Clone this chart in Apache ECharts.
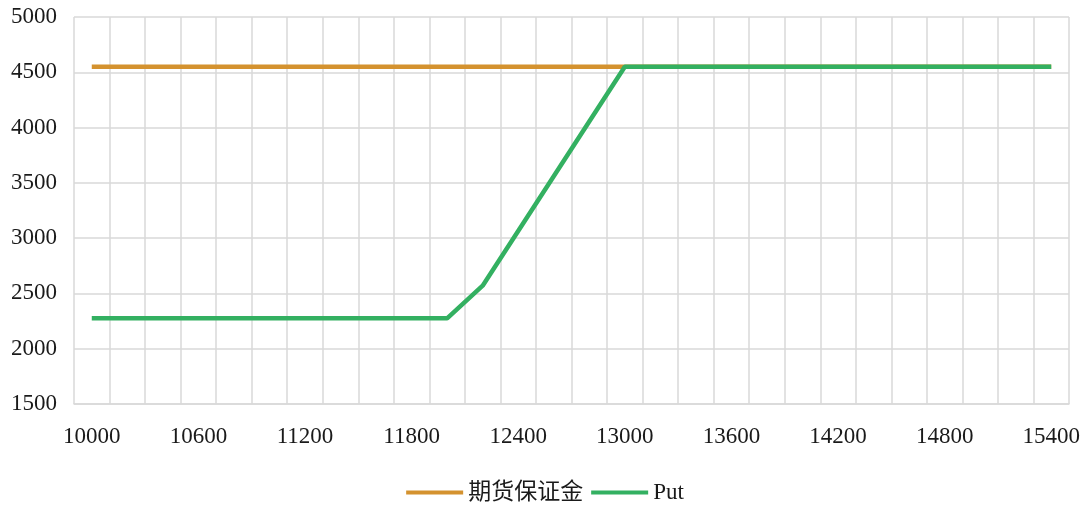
<!DOCTYPE html>
<html>
<head>
<meta charset="utf-8">
<script src="https://cdn.jsdelivr.net/npm/echarts@6/dist/echarts.min.js"></script>
<style>
  html, body { margin: 0; padding: 0; background: #fff; }
  #chart { width: 1090px; height: 506px; }
</style>
</head>
<body>
<div id="chart"></div>
<script>
// Underlying price levels (x axis)
const strikes = [
  10000, 10200, 10400, 10600, 10800, 11000, 11200, 11400, 11600, 11800,
  12000, 12200, 12400, 12600, 12800, 13000, 13200, 13400, 13600, 13800,
  14000, 14200, 14400, 14600, 14800, 15000, 15200, 15400
];

// Futures margin: flat across all price levels
const futuresMargin = [
  4550, 4550, 4550, 4550, 4550, 4550, 4550, 4550, 4550, 4550,
  4550, 4550, 4550, 4550, 4550, 4550, 4550, 4550, 4550, 4550,
  4550, 4550, 4550, 4550, 4550, 4550, 4550, 4550
];

// Put margin
const putMargin = [
  2275, 2275, 2275, 2275, 2275, 2275, 2275, 2275, 2275, 2275,
  2275, 2570, 3065, 3560, 4055, 4550, 4550, 4550, 4550, 4550,
  4550, 4550, 4550, 4550, 4550, 4550, 4550, 4550
];

const seriesNames = ['期货保证金', 'Put'];

const FONT = '"Liberation Serif", "Noto Sans CJK SC", serif';
const GRID_COLOR = '#d9d9d9';

const chart = echarts.init(document.getElementById('chart'), null, { renderer: 'canvas' });

chart.setOption({
  animation: false,
  backgroundColor: '#ffffff',
  textStyle: { fontFamily: FONT },
  grid: { left: 74, right: 21, top: 17, bottom: 102, containLabel: false },
  legend: {
    data: seriesNames,
    top: 476,
    left: 'center',
    itemWidth: 57,
    itemHeight: 4,
    itemGap: 8,
    icon: 'rect',
    textStyle: { fontFamily: FONT, fontSize: 23, color: '#1a1a1a' }
  },
  xAxis: {
    type: 'category',
    data: strikes,
    boundaryGap: true,
    axisLine: { show: true, lineStyle: { color: GRID_COLOR, width: 1.5 } },
    axisTick: { show: false },
    axisLabel: {
      interval: 2,
      margin: 21,
      fontSize: 23,
      color: '#1a1a1a',
      fontFamily: FONT
    },
    splitLine: { show: true, interval: 0, lineStyle: { color: GRID_COLOR, width: 1.5 } }
  },
  yAxis: {
    type: 'value',
    min: 1500,
    max: 5000,
    interval: 500,
    axisLine: { show: false },
    axisTick: { show: false },
    axisLabel: {
      margin: 17,
      fontSize: 23,
      color: '#1a1a1a',
      fontFamily: FONT,
      formatter: (v) => String(v)
    },
    splitLine: { show: true, lineStyle: { color: GRID_COLOR, width: 1.5 } }
  },
  series: [
    {
      name: seriesNames[0],
      type: 'line',
      data: futuresMargin,
      symbol: 'none',
      lineStyle: { color: '#d4922f', width: 4.5 },
      itemStyle: { color: '#d4922f' }
    },
    {
      name: seriesNames[1],
      type: 'line',
      data: putMargin,
      symbol: 'none',
      lineStyle: { color: '#33b061', width: 4.5 },
      itemStyle: { color: '#33b061' }
    }
  ]
});
</script>
</body>
</html>
